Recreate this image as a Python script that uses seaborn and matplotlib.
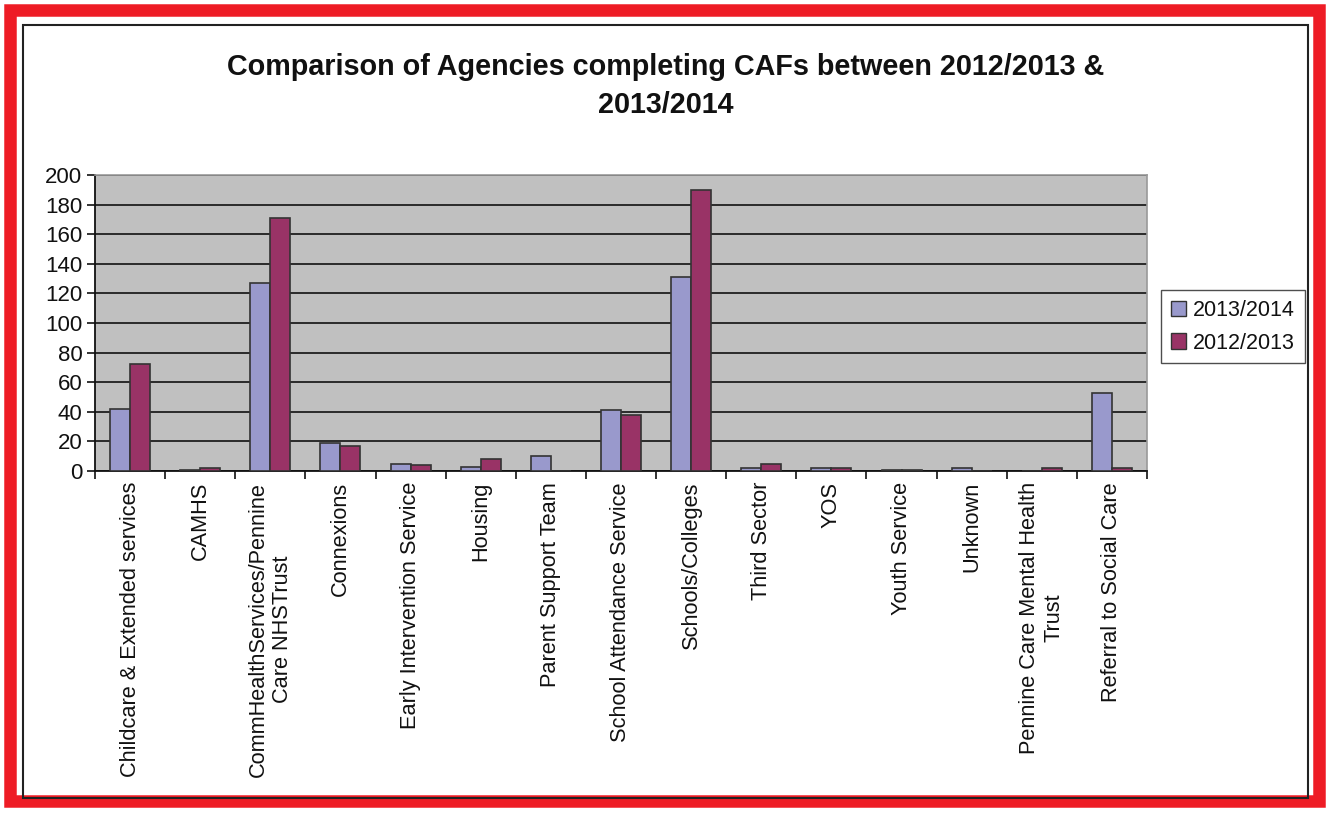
import matplotlib
matplotlib.use("Agg")
import matplotlib.pyplot as plt
import matplotlib.patches as mpatches
import seaborn as sns
import pandas as pd
import numpy as np

categories = [
    "Childcare & Extended services",
    "CAMHS",
    "CommHealthServices/Pennine\nCare NHSTrust",
    "Connexions",
    "Early Intervention Service",
    "Housing",
    "Parent Support Team",
    "School Attendance Service",
    "Schools/Colleges",
    "Third Sector",
    "YOS",
    "Youth Service",
    "Unknown",
    "Pennine Care Mental Health\nTrust",
    "Referral to Social Care",
]
series_names = ["2013/2014", "2012/2013"]
values_2013_2014 = [42, 1, 127, 19, 5, 3, 10, 41, 131, 2, 2, 1, 2, 0, 53]
values_2012_2013 = [72, 2, 171, 17, 4, 8, 0, 38, 190, 5, 2, 1, 0, 2, 2]
y_ticks = [0, 20, 40, 60, 80, 100, 120, 140, 160, 180, 200]

colors = {"2013/2014": "#9999CC", "2012/2013": "#993366"}

df = pd.DataFrame({
    "Agency": categories * 2,
    "Series": [series_names[0]] * len(categories) + [series_names[1]] * len(categories),
    "Count": values_2013_2014 + values_2012_2013,
})

sns.set_theme(style="white")
plt.rcParams["font.family"] = ["Liberation Sans", "DejaVu Sans"]

W, H = 1329, 814
fig = plt.figure(figsize=(W / 100, H / 100), dpi=100)
fig.patch.set_facecolor("white")

# Red outer frame and black inner frame
fig.patches.append(mpatches.Rectangle((10 / W, 13 / H), (W - 20) / W, (H - 23) / H,
                                      transform=fig.transFigure, fill=False,
                                      edgecolor="#EE1C25", linewidth=9, zorder=0))
fig.patches.append(mpatches.Rectangle((22.5 / W, (H - 798) / H), (1308 - 22.5) / W, (798 - 25) / H,
                                      transform=fig.transFigure, fill=False,
                                      edgecolor="#222222", linewidth=1.5, zorder=0))

left, right, top, bottom = 95 / W, 1147 / W, 175 / H, 471 / H
ax = fig.add_axes([left, 1 - bottom, right - left, bottom - top])
ax.set_facecolor("#C0C0C0")

sns.barplot(data=df, x="Agency", y="Count", hue="Series", hue_order=series_names,
            palette=colors, order=categories, width=0.57, gap=0,
            edgecolor="#333333", linewidth=1.2, saturation=1, ax=ax, legend=True, zorder=3)

ax.set_ylim(0, 200)
ax.set_xlim(-0.5, len(categories) - 0.5)
ax.set_yticks(y_ticks)
ax.set_yticklabels([str(v) for v in y_ticks], fontsize=16, color="#111111")
ax.yaxis.grid(True, color="#111111", linewidth=1.2, zorder=1)
ax.set_axisbelow(True)
ax.set_xlabel("")
ax.set_ylabel("")

ax.set_xticks(range(len(categories)))
ax.set_xticklabels(categories, rotation=90, fontsize=15.7, color="#111111",
                   ha="center", va="top", multialignment="center")
ax.tick_params(axis="x", which="major", length=0, pad=8)
ax.set_xticks(np.arange(-0.5, len(categories) + 0.5, 1), minor=True)
ax.tick_params(axis="x", which="minor", length=6, width=1.2, color="#111111", direction="out", bottom=True)
ax.tick_params(axis="y", which="major", length=6, width=1.2, color="#111111", direction="out", left=True, pad=3)

for s in ["left", "bottom"]:
    ax.spines[s].set_color("#111111")
    ax.spines[s].set_linewidth(1.3)
for s in ["top", "right"]:
    ax.spines[s].set_color("#999999")
    ax.spines[s].set_linewidth(1.2)

ax.legend_.remove()
leg_handles = [mpatches.Patch(facecolor=colors[n], edgecolor="#333333", linewidth=1.0) for n in series_names]
leg = fig.legend(leg_handles, series_names, loc="upper left",
                 bbox_to_anchor=(1161 / W, 1 - 290 / H), fontsize=15.5,
                 frameon=True, fancybox=False, edgecolor="#222222",
                 handlelength=0.7, handleheight=0.7, handletextpad=0.35,
                 borderpad=0.45, labelspacing=0.55, borderaxespad=0)
leg.get_frame().set_linewidth(1.0)
for t in leg.get_texts():
    t.set_color("#111111")

fig.text(666 / W, 1 - 86 / H,
         "Comparison of Agencies completing CAFs between 2012/2013 &\n2013/2014",
         ha="center", va="center", fontsize=20.7, fontweight="bold", color="#111111",
         linespacing=1.45)

fig.savefig("out.png", dpi=100, facecolor="white")
